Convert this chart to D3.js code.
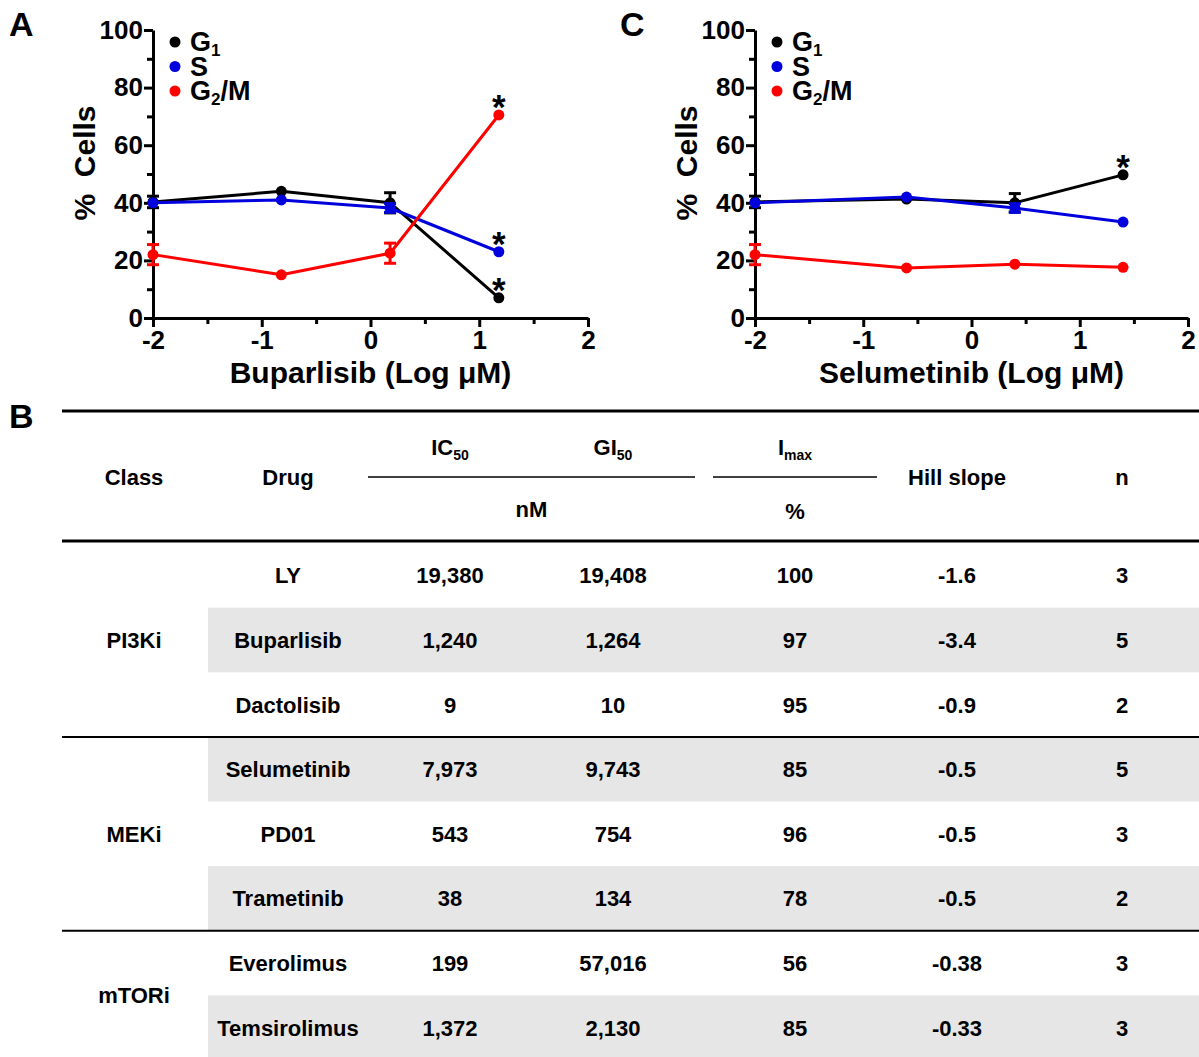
<html>
  <head>
    <style>
      body { margin: 0; background: #fff; }
      text { font-family: 'Liberation Sans', Arial, sans-serif; font-weight: bold; }
    </style>
  </head>
  <body>
    <script src="https://d3js.org/d3.v7.min.js"></script>

    <svg id="fig" width="1199" height="1057"></svg>

    <script>
      // ---- data: panel A (Buparlisib) ----
      const doseA = [-2, -0.82, 0.18, 1.18];
      const g1A = [40.3, 44, 40, 7];
      const sA = [40, 41, 38.2, 23];
      const g2mA = [22, 15, 22.5, 70.5];
      const errG1A = [2, 0, 3.5, 0];
      const errSA = [0, 0, 1.5, 0];
      const errG2mA = [3.5, 0, 3.5, 0];

      // ---- data: panel C (Selumetinib) ----
      const doseC = [-2, -0.6, 0.4, 1.4];
      const g1C = [40.3, 41.3, 40, 49.7];
      const sC = [40, 42, 38.2, 33.3];
      const g2mC = [22, 17.4, 18.7, 17.6];
      const errG1C = [2, 0, 3.2, 0];
      const errSC = [0, 0, 1.5, 0];
      const errG2mC = [3.5, 0, 0, 0];

      const yTicks = [0, 20, 40, 60, 80, 100];
      const yMinor = [10, 30, 50, 70, 90];
      const xTicks = [-2, -1, 0, 1, 2];
      const xMinor = [-1.5, -0.5, 0.5, 1.5];

      // ---- data: table B ----
      const classes = ['PI3Ki', 'MEKi', 'mTORi'];
      const drugClass = ['PI3Ki', 'PI3Ki', 'PI3Ki', 'MEKi', 'MEKi', 'MEKi', 'mTORi', 'mTORi'];
      const drugs = ['LY', 'Buparlisib', 'Dactolisib', 'Selumetinib', 'PD01', 'Trametinib', 'Everolimus', 'Temsirolimus'];
      const ic50 = ['19,380', '1,240', '9', '7,973', '543', '38', '199', '1,372'];
      const gi50 = ['19,408', '1,264', '10', '9,743', '754', '134', '57,016', '2,130'];
      const imax = ['100', '97', '95', '85', '96', '78', '56', '85'];
      const hill = ['-1.6', '-3.4', '-0.9', '-0.5', '-0.5', '-0.5', '-0.38', '-0.33'];
      const nRep = ['3', '5', '2', '5', '3', '2', '3', '3'];

      const svg = d3.select('#fig');
      const colors = { g1: '#000000', s: '#0000dd', g2m: '#ff0000' };

      function panel(opts) {
        const x = d3.scaleLinear().domain([-2, 2]).range([opts.x0, opts.x1]);
        const y = d3.scaleLinear().domain([0, 100]).range([318, 30]);
        const g = svg.append('g');

        // axes
        g.append('g').attr('transform', `translate(${opts.x0},0)`)
          .call(d3.axisLeft(y).tickValues(yTicks).tickSize(9).tickSizeOuter(0).tickPadding(1));
        g.append('g').attr('transform', `translate(${opts.x0},0)`)
          .call(d3.axisLeft(y).tickValues(yMinor).tickSize(6).tickFormat(''))
          .select('.domain').remove();
        g.append('g').attr('transform', 'translate(0,318)')
          .call(d3.axisBottom(x).tickValues(xTicks).tickSize(9).tickSizeOuter(0).tickPadding(4)
            .tickFormat(d3.format('d')));
        g.append('g').attr('transform', 'translate(0,318)')
          .call(d3.axisBottom(x).tickValues(xMinor).tickSize(6).tickFormat(''))
          .select('.domain').remove();
        g.selectAll('.domain, .tick line').attr('stroke', '#000').attr('stroke-width', 3);
        g.selectAll('.tick text').attr('font-size', 26).attr('fill', '#000')
          .text(function () { return d3.select(this).text().replace('−', '-'); });

        // series
        const series = [
          { key: 'g1', v: opts.g1, e: opts.eg1 },
          { key: 's', v: opts.s, e: opts.es },
          { key: 'g2m', v: opts.g2m, e: opts.eg2m },
        ];
        const line = d3.line().x((d) => x(d[0])).y((d) => y(d[1]));
        series.forEach((s) => {
          const pts = opts.dose.map((d, i) => [d, s.v[i], s.e[i]]);
          const sg = g.append('g');
          sg.append('path').datum(pts).attr('d', line).attr('fill', 'none')
            .attr('stroke', colors[s.key]).attr('stroke-width', 3).attr('stroke-linejoin', 'round');
          const eb = sg.selectAll('g.err').data(pts.filter((p) => p[2] > 0)).enter().append('g')
            .attr('stroke', colors[s.key]).attr('stroke-width', 3);
          eb.append('line').attr('x1', (d) => x(d[0])).attr('x2', (d) => x(d[0]))
            .attr('y1', (d) => y(d[1] - d[2])).attr('y2', (d) => y(d[1] + d[2]));
          [-1, 1].forEach((sgn) => {
            eb.append('line').attr('x1', (d) => x(d[0]) - 6).attr('x2', (d) => x(d[0]) + 6)
              .attr('y1', (d) => y(d[1] + sgn * d[2])).attr('y2', (d) => y(d[1] + sgn * d[2]));
          });
          sg.selectAll('circle').data(pts).enter().append('circle')
            .attr('cx', (d) => x(d[0])).attr('cy', (d) => y(d[1])).attr('r', 5.5)
            .attr('fill', colors[s.key]);
        });

        // significance stars
        opts.stars.forEach((st) => {
          const last = opts.dose.length - 1;
          g.append('text').attr('x', x(opts.dose[last])).attr('y', y(opts[st][last]) + 4)
            .attr('text-anchor', 'middle').attr('font-size', 35).text('*');
        });

        // legend
        const leg = [
          { key: 'g1', main: 'G', sub: '1', tail: '' },
          { key: 's', main: 'S', sub: '', tail: '' },
          { key: 'g2m', main: 'G', sub: '2', tail: '/M' },
        ];
        leg.forEach((l, i) => {
          const ly = 42 + i * 24.5;
          g.append('circle').attr('cx', opts.x0 + 22).attr('cy', ly).attr('r', 5.5).attr('fill', colors[l.key]);
          const t = g.append('text').attr('x', opts.x0 + 37).attr('y', ly + 9).attr('font-size', 27);
          t.append('tspan').text(l.main);
          if (l.sub) {
            t.append('tspan').attr('font-size', 17).attr('dy', 5).text(l.sub);
            if (l.tail) t.append('tspan').attr('dy', -5).text(l.tail);
          }
        });

        // titles
        g.append('text').attr('transform', `translate(${opts.x0 - 58},163) rotate(-90)`)
          .attr('text-anchor', 'middle').attr('font-size', 30).style('white-space', 'pre').text('%  Cells');
        g.append('text').attr('x', (opts.x0 + opts.x1) / 2).attr('y', 383)
          .attr('text-anchor', 'middle').attr('font-size', 30).text(opts.title);
        g.append('text').attr('x', opts.letterX).attr('y', 36).attr('font-size', 34).text(opts.letter);
      }

      panel({
        x0: 153, x1: 588, dose: doseA, g1: g1A, s: sA, g2m: g2mA,
        eg1: errG1A, es: errSA, eg2m: errG2mA, stars: ['g2m', 's', 'g1'],
        title: 'Buparlisib (Log \u03bcM)', letter: 'A', letterX: 9,
      });
      panel({
        x0: 755, x1: 1188, dose: doseC, g1: g1C, s: sC, g2m: g2mC,
        eg1: errG1C, es: errSC, eg2m: errG2mC, stars: ['g1'],
        title: 'Selumetinib (Log \u03bcM)', letter: 'C', letterX: 620,
      });

      // ---- table B ----
      const tb = svg.append('g');
      const cols = ['class', 'drug', 'ic50', 'gi50', 'imax', 'hill', 'n'];
      const colX = d3.scaleOrdinal().domain(cols).range([134, 288, 450, 613, 795, 957, 1122]);
      const rowY = d3.scaleBand().domain(drugs).range([543, 1060]);
      const fs = 22;

      tb.append('text').attr('x', 9).attr('y', 428).attr('font-size', 34).text('B');

      // shaded rows
      tb.selectAll('rect.band').data(drugs.filter((_, i) => i % 2 === 1)).enter().append('rect')
        .attr('x', 208).attr('width', 1199 - 208)
        .attr('y', (d) => rowY(d)).attr('height', rowY.bandwidth())
        .attr('fill', '#e6e6e6');

      const rule = (y, w) => tb.append('line').attr('x1', 62).attr('x2', 1199)
        .attr('y1', y).attr('y2', y).attr('stroke', '#000').attr('stroke-width', w);
      rule(411, 3);
      rule(541, 3);
      // group separators
      [3, 6].forEach((i) => rule(rowY(drugs[i]), 2));

      // header
      const hdr = (x, y, main, sub) => {
        const t = tb.append('text').attr('x', x).attr('y', y).attr('text-anchor', 'middle').attr('font-size', fs);
        t.append('tspan').text(main);
        if (sub) t.append('tspan').attr('font-size', 14).attr('dy', 5).text(sub);
      };
      hdr(colX('ic50'), 455, 'IC', '50');
      hdr(colX('gi50'), 455, 'GI', '50');
      hdr(colX('imax'), 455, 'I', 'max');
      hdr(colX('class'), 485, 'Class');
      hdr(colX('drug'), 485, 'Drug');
      hdr(colX('hill'), 485, 'Hill slope');
      hdr(colX('n'), 485, 'n');
      hdr((colX('ic50') + colX('gi50')) / 2, 517, 'nM');
      hdr(colX('imax'), 519, '%');
      [[368, 695], [713, 877]].forEach((r) => {
        tb.append('line').attr('x1', r[0]).attr('x2', r[1]).attr('y1', 477).attr('y2', 477)
          .attr('stroke', '#000').attr('stroke-width', 1.5);
      });

      // body
      const rows = drugs.map((d, i) => ({
        drug: d, ic50: ic50[i], gi50: gi50[i], imax: imax[i], hill: hill[i], n: nRep[i],
      }));
      cols.slice(1).forEach((c) => {
        tb.selectAll(null).data(rows).enter().append('text')
          .attr('x', colX(c)).attr('y', (d) => rowY(d.drug) + rowY.bandwidth() / 2 + 8)
          .attr('text-anchor', 'middle').attr('font-size', fs).text((d) => d[c]);
      });
      // class labels, centered on their group
      classes.forEach((c) => {
        const members = drugs.filter((_, i) => drugClass[i] === c);
        const top = rowY(members[0]);
        const bot = rowY(members[members.length - 1]) + rowY.bandwidth();
        tb.append('text').attr('x', colX('class')).attr('y', (top + bot) / 2 + 8)
          .attr('text-anchor', 'middle').attr('font-size', fs).text(c);
      });
    </script>
  </body>
</html>
